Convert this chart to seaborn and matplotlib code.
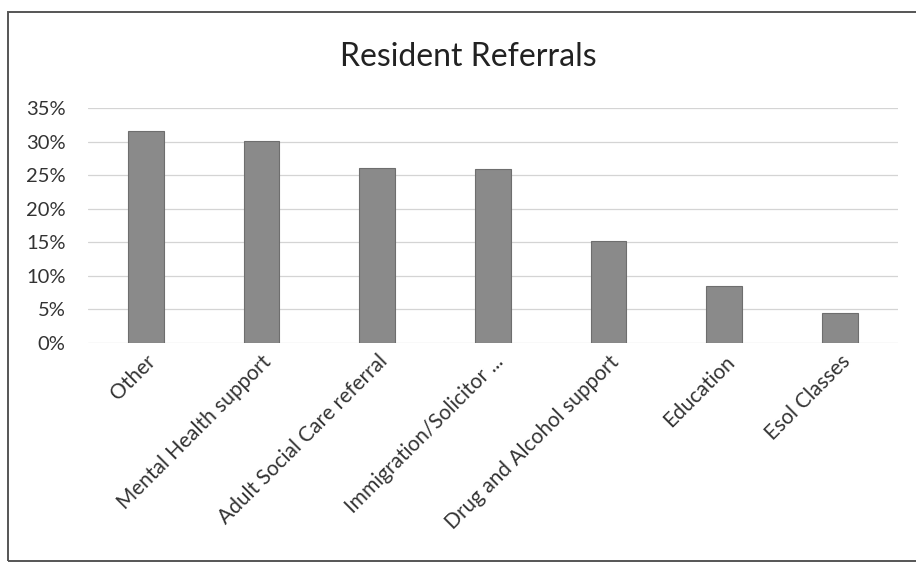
import matplotlib
matplotlib.use("Agg")
import matplotlib.pyplot as plt
import matplotlib.ticker as mticker
import seaborn as sns
import pandas as pd

# values
categories = ["Other", "Mental Health support", "Adult Social Care referral",
              "Immigration/Solicitor ...", "Drug and Alcohol support",
              "Education", "Esol Classes"]
shares = [0.315, 0.301, 0.260, 0.259, 0.152, 0.085, 0.045]
y_ticks = [0, 0.05, 0.10, 0.15, 0.20, 0.25, 0.30, 0.35]

df = pd.DataFrame({"category": categories, "share": shares})

sns.set_theme(style="white")
plt.rcParams["font.family"] = ["Lato", "DejaVu Sans"]

fig = plt.figure(figsize=(9.16, 5.68), dpi=100)
ax = fig.add_axes([0.096, 0.396, 0.884, 0.414])

sns.barplot(data=df, x="category", y="share", color="#8a8a8a",
            width=0.31, edgecolor="#6e6e6e", linewidth=0.8, ax=ax,
            saturation=1)

ax.set_ylim(0, 0.35)
ax.set_yticks(y_ticks)
ax.yaxis.set_major_formatter(mticker.PercentFormatter(1.0, decimals=0))
ax.grid(axis="y", color="#d4d4d4", linewidth=0.9)
ax.set_axisbelow(True)
for s in ax.spines.values():
    s.set_visible(False)
ax.set_xlabel("")
ax.set_ylabel("")
ax.tick_params(axis="both", length=0, labelsize=15, colors="#333333")
ax.tick_params(axis="y", labelsize=14.5, pad=16)
ax.tick_params(axis="x", pad=6)
plt.setp(ax.get_xticklabels(), rotation=45, ha="right", rotation_mode="anchor")

fig.text(0.511, 0.90, "Resident Referrals", ha="center", va="center",
         fontsize=23, color="#222222")

# thin frame around the chart like the pasted screenshot
fig.add_artist(plt.Rectangle((0.009, 0.012), 1.2, 0.967, transform=fig.transFigure,
                             fill=False, edgecolor="#555555", linewidth=1.4))

fig.savefig("out.png", dpi=100)
